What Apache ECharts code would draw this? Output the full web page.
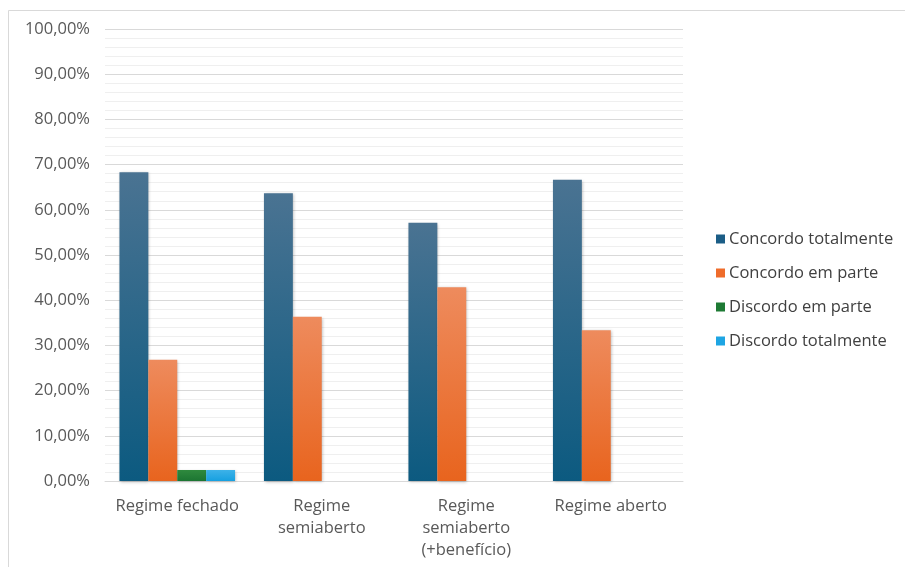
<!DOCTYPE html>
<html>
<head>
<meta charset="utf-8">
<script src="https://cdn.jsdelivr.net/npm/echarts@6/dist/echarts.min.js"></script>
<style>
  html, body { margin: 0; padding: 0; background: #ffffff; }
  #chart { width: 905px; height: 567px; }
</style>
</head>
<body>
<div id="chart"></div>
<script>
// Categories (regimes) and response shares in percent
const categories = ['Regime fechado', 'Regime\nsemiaberto', 'Regime\nsemiaberto\n(+benefício)', 'Regime aberto'];
const concordoTotalmente = [68.29, 63.64, 57.14, 66.67];
const concordoEmParte    = [26.83, 36.36, 42.86, 33.33];
const discordoEmParte    = [2.44, 0, 0, 0];
const discordoTotalmente = [2.44, 0, 0, 0];
const yTicks = { min: 0, max: 100, interval: 10 };

const FONT = '"Open Sans", Lato, sans-serif';
const FS = 16.5;

function grad(top, bottom) {
  return new echarts.graphic.LinearGradient(0, 0, 0, 1, [
    { offset: 0, color: top },
    { offset: 1, color: bottom }
  ]);
}

function barSeries(name, data, top, bottom) {
  return {
    name: name,
    type: 'bar',
    data: data,
    barGap: '0%',
    barCategoryGap: '20%',
    itemStyle: {
      color: grad(top, bottom),
      shadowBlur: 3,
      shadowColor: 'rgba(0,0,0,0.28)',
      shadowOffsetX: 1,
      shadowOffsetY: 1
    },
    emphasis: { disabled: true }
  };
}

const chart = echarts.init(document.getElementById('chart'), null, { renderer: 'canvas' });
chart.setOption({
  animation: false,
  backgroundColor: '#ffffff',
  grid: { left: 105, right: 222, top: 29, bottom: 86, containLabel: false },
  graphic: [{
    type: 'rect',
    shape: { x: 8.5, y: 10.5, width: 1000, height: 700 },
    style: { fill: 'none', stroke: '#d9d9d9', lineWidth: 1 },
    silent: true,
    z: -10
  }],
  legend: {
    orient: 'vertical',
    left: 711,
    top: 223,
    itemWidth: 9,
    itemHeight: 9,
    itemGap: 12,
    icon: 'rect',
    textStyle: { fontFamily: FONT, fontSize: FS, lineHeight: 22, color: '#404040', padding: [0, 0, 0, -1] },
    data: [
      { name: 'Concordo totalmente', itemStyle: { color: '#1b5d86' } },
      { name: 'Concordo em parte', itemStyle: { color: '#ef6c2b' } },
      { name: 'Discordo em parte', itemStyle: { color: '#1e7a34' } },
      { name: 'Discordo totalmente', itemStyle: { color: '#1ea5e3' } }
    ]
  },
  xAxis: {
    type: 'category',
    data: categories,
    axisLine: { show: true, lineStyle: { color: '#d9d9d9', width: 1 } },
    axisTick: { show: false },
    axisLabel: {
      interval: 0,
      margin: 14,
      fontFamily: FONT,
      fontSize: FS,
      lineHeight: 22,
      color: '#595959'
    }
  },
  yAxis: {
    type: 'value',
    min: yTicks.min,
    max: yTicks.max,
    interval: yTicks.interval,
    axisLine: { show: false },
    axisTick: { show: false },
    axisLabel: {
      margin: 15,
      fontFamily: FONT,
      fontSize: FS,
      color: '#595959',
      formatter: v => v.toFixed(2).replace('.', ',') + '%'
    },
    splitLine: { show: true, lineStyle: { color: '#d9d9d9', width: 1 } },
    minorTick: { show: false, splitNumber: 5 },
    minorSplitLine: { show: true, lineStyle: { color: '#efefef', width: 1 } }
  },
  series: [
    barSeries('Concordo totalmente', concordoTotalmente, '#4a7392', '#0c5a80'),
    barSeries('Concordo em parte', concordoEmParte, '#ee8b5d', '#e8641e'),
    barSeries('Discordo em parte', discordoEmParte, '#2f8a3e', '#1c7532'),
    barSeries('Discordo totalmente', discordoTotalmente, '#3db2e8', '#17a0e0')
  ]
});
</script>
</body>
</html>
